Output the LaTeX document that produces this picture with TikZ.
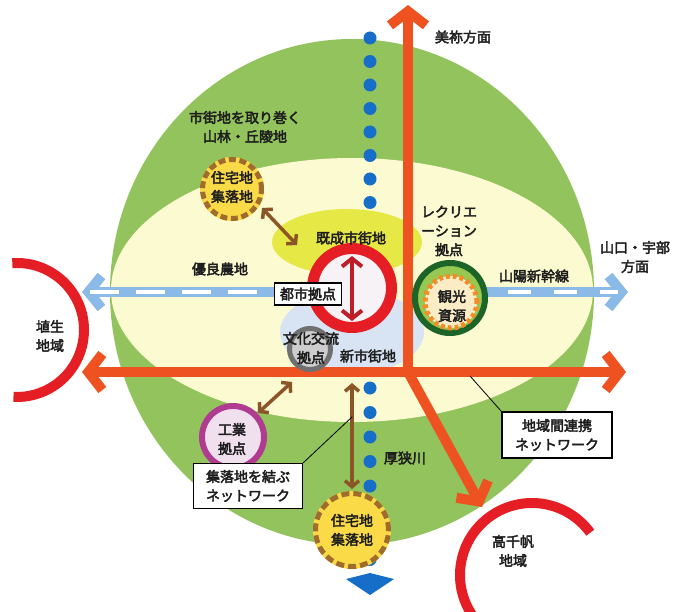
\documentclass[tikz,border=0pt]{standalone}
\usepackage{fontspec}
\setmainfont{Noto Sans CJK JP}
\newfontfamily\jpb{Noto Sans CJK JP}[FakeBold=3]
\usetikzlibrary{arrows.meta}
\definecolor{greenbg}{RGB}{146,195,92}
\definecolor{creambg}{RGB}{252,250,208}
\definecolor{yelblob}{RGB}{230,232,70}
\definecolor{blublob}{RGB}{216,228,244}
\definecolor{redc}{RGB}{228,30,36}
\definecolor{darkred}{RGB}{190,30,40}
\definecolor{orgred}{RGB}{238,82,32}
\definecolor{shinblue}{RGB}{140,186,232}
\definecolor{river}{RGB}{22,110,200}
\definecolor{brn}{RGB}{140,85,40}
\definecolor{dbrown}{RGB}{160,108,45}
\definecolor{jyellow}{RGB}{250,218,70}
\definecolor{dgreen}{RGB}{28,100,40}
\definecolor{lgreen}{RGB}{150,200,82}
\definecolor{orng}{RGB}{245,140,40}
\definecolor{pale}{RGB}{252,236,198}
\definecolor{purp}{RGB}{175,60,145}
\definecolor{pinkf}{RGB}{240,224,238}
\definecolor{grayr}{RGB}{112,112,112}
\definecolor{grayf}{RGB}{205,205,205}
\definecolor{txtc}{RGB}{30,30,30}
\definecolor{corew}{RGB}{246,242,246}
\tikzset{
  txt/.style={font=\jpb\fontsize{14}{19}\selectfont, text=txtc, align=center, inner sep=0pt},
  labelbox/.style={txt, draw=black, line width=1.3pt, fill=white, inner sep=3pt},
  netarrow/.style={draw=orgred, line width=10pt},
  nethead/.tip={Straight Barb[length=14pt,width=36pt,line cap=butt,line join=miter]},
  shinhead/.tip={Straight Barb[length=13pt,width=32pt,line cap=butt,line join=miter]},
  brownarr/.style={draw=brn, line width=3.5pt, {Straight Barb[length=6pt,width=14pt]}-{Straight Barb[length=6pt,width=14pt]}},
  ring/.style={circle, inner sep=0pt},
  riverdot/.style={circle, fill=river, inner sep=0pt, minimum size=13pt}
}
\begin{document}
\begin{tikzpicture}[x=1pt,y=-1pt]
\useasboundingbox (0,0) rectangle (682,612);
% background zones
\fill[greenbg] (352,292) ellipse [x radius=242, y radius=253];
\fill[creambg] (352,290) ellipse [x radius=241, y radius=132];
% river dots
\foreach \k in {0,...,7} { \node[riverdot] (rt\k) at (370,{38+23.5*\k}) {}; }
\foreach \k in {0,...,7} { \node[riverdot] (rb\k) at (370,{388+24.5*\k}) {}; }
\fill[river] (346,579) -- (370,573) -- (394,579) -- (370,595) -- cycle;
% blobs
\fill[yelblob] (347,242) ellipse [x radius=75, y radius=33];
\fill[blublob] (352,332) ellipse [x radius=72, y radius=42];
% shinkansen
\coordinate (shL) at (82,292);
\coordinate (shLe) at (276,292);
\coordinate (shR) at (628,292);
\coordinate (shRs) at (486,292);
\draw[shinblue, line width=10pt, -{shinhead}] (shLe) -- (shL);
\draw[white, line width=4pt, dash pattern=on 29pt off 17pt] (257,292) -- (90,292);
\draw[shinblue, line width=10pt, -{shinhead}] (shRs) -- (shR);
\draw[white, line width=4pt, dash pattern=on 23pt off 23pt] (508,292) -- (618,292);
% regional network arrows
\coordinate (J) at (408,372);
\coordinate (hL) at (82,372);
\coordinate (hR) at (626,372);
\coordinate (vT) at (408,5);
\coordinate (dB) at (482,507);
\draw[netarrow, {nethead}-{nethead}] (hL) -- (hR);
\draw[netarrow, -{nethead}] ([yshift=5pt]J) -- (vT);
\draw[netarrow, -{nethead}] (J) -- (dB);
% side regions
\coordinate (habu) at (17,330);
\draw[redc, line width=10pt] (habu) ++(-94:67) arc [start angle=-94, end angle=93, radius=67];
\coordinate (taka) at (532,575);
\draw[redc, line width=10pt] (taka) ++(145:72) arc [start angle=145, end angle=324, radius=72];
% urban core
\node[ring, draw=redc, line width=11pt, fill=corew, minimum size=79pt] (toshi) at (352,288) {};
\coordinate (tA) at (352,256);
\coordinate (tB) at (352,321);
\draw[darkred, line width=4pt, {Straight Barb[length=8pt,width=20pt]}-{Straight Barb[length=8pt,width=20pt]}] (tA) -- (tB);
\node[labelbox, minimum width=67pt, minimum height=22pt] (toshilbl) at (308,294) {都市拠点};
\node[ring, draw=grayr, line width=5pt, fill=grayf, minimum size=41pt] (bunka) at (310,349) {};
\node[txt] (bunkat) at (311,348) {文化交流\\拠点};
% recreation
\node[ring, draw=dgreen, line width=6pt, fill=lgreen, minimum size=70pt] (reku) at (450,298) {};
\node[ring, draw=orng, line width=5pt, dash pattern=on 4pt off 3pt, fill=pale, minimum size=52pt] (kanko) at (451,302) {};
\node[txt] (kankot) at (452,306) {観光\\資源};
% industry
\node[ring, draw=purp, line width=6pt, fill=pinkf, minimum size=62pt] (kogyo) at (233,437) {};
\node[txt] (kogyot) at (232,439) {工業\\拠点};
% residential settlements
\fill[jyellow] (232,189) circle [radius=32pt];
\node[ring, draw=dbrown, line width=5pt, dash pattern=on 7pt off 3.6pt, minimum size=59pt] (jutakuT) at (232,189) {};
\node[txt] (jutakuTt) at (232,187) {住宅地\\集落地};
\fill[jyellow] (352,530) circle [radius=39pt];
\node[ring, draw=dbrown, line width=5pt, dash pattern=on 8pt off 4pt, minimum size=73pt] (jutakuB) at (352,530) {};
\node[txt] (jutakuBt) at (352,530) {住宅地\\集落地};
% settlement network arrows
\coordinate (b1s) at (262,208);
\coordinate (b1e) at (297,245);
\draw[brownarr] (b1s) -- (b1e);
\coordinate (b2s) at (258,413);
\coordinate (b2e) at (292,382);
\draw[brownarr] (b2s) -- (b2e);
\coordinate (b3s) at (352,383);
\coordinate (b3e) at (352,489);
\draw[brownarr] (b3s) -- (b3e);
% label boxes with leaders
\node[labelbox, minimum width=109pt, minimum height=45pt] (shuraku) at (248,486) {集落地を結ぶ\\ネットワーク};
\coordinate (lead1) at (352,417);
\draw[black, line width=0.8pt] (shuraku.north east) -- (lead1);
\node[labelbox, minimum width=110pt, minimum height=46pt] (chiiki) at (557,435) {地域間連携\\ネットワーク};
\coordinate (lead2) at (470,376);
\draw[black, line width=0.8pt] (chiiki.north west) -- (lead2);
% texts
\node[txt] (mine) at (463,37) {美祢方面};
\node[txt] (sanrin) at (245,127) {市街地を取り巻く\\山林・丘陵地};
\node[txt] (kisei) at (351,238) {既成市街地};
\node[txt] (rekut) at (449,231) {レクリエ\\ーション\\拠点};
\node[txt] (yamaguchi) at (635,257) {山口・宇部\\方面};
\node[txt] (yuryo) at (220,269) {優良農地};
\node[txt] (sanyo) at (534,276) {山陽新幹線};
\node[txt] (habut) at (50,336) {埴生\\地域};
\node[txt] (shinshi) at (368,356) {新市街地};
\node[txt] (asa) at (405,458) {厚狭川};
\node[txt] (takat) at (513,551) {高千帆\\地域};
\end{tikzpicture}
\end{document}
